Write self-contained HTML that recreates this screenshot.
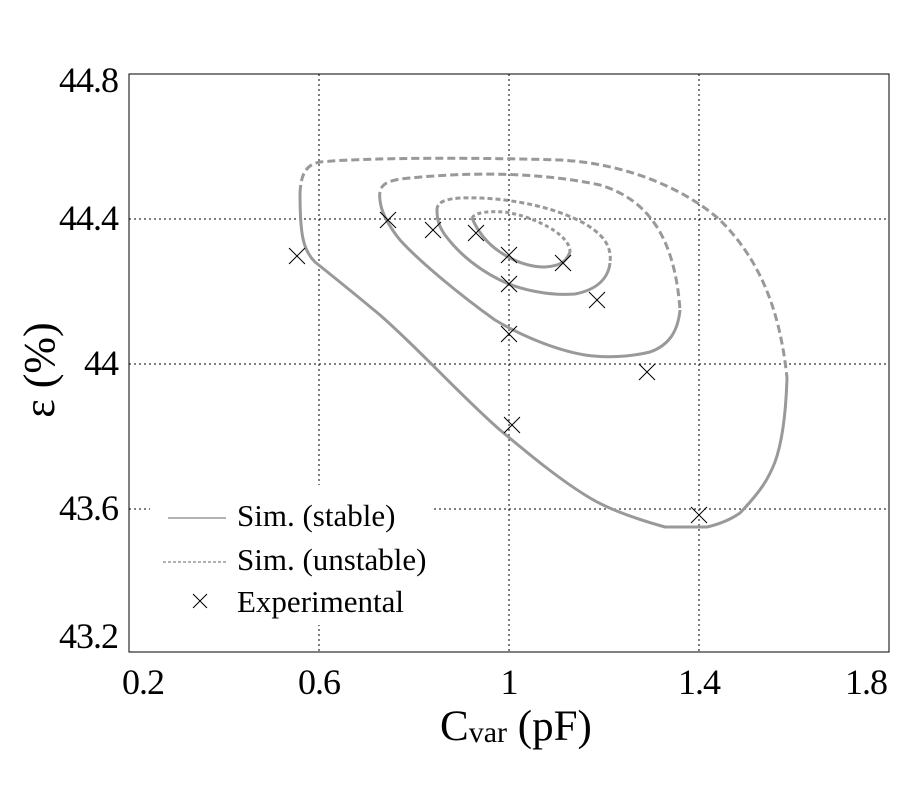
<!DOCTYPE html>
<html><head><style>
body{margin:0;background:#fff;}
svg{display:block;font-family:"Liberation Serif",serif;}
</style></head><body>
<svg width="900" height="800" viewBox="0 0 900 800">
<rect width="900" height="800" fill="#fff"/>
<g stroke="#000" stroke-width="1" stroke-dasharray="2,3" fill="none">
<line x1="319" y1="74" x2="319" y2="652"/>
<line x1="509" y1="74" x2="509" y2="652"/>
<line x1="699" y1="74" x2="699" y2="652"/>
<line x1="129" y1="219" x2="889" y2="219"/>
<line x1="129" y1="364" x2="889" y2="364"/>
<line x1="129" y1="509" x2="889" y2="509"/>
</g>
<rect x="150" y="485" width="283" height="140" fill="#fff"/>
<g stroke="#999" stroke-width="3" fill="none" stroke-linejoin="round">
<path d="M300,193 C301,175 305,165 320,162 C360,158 460,157 560,160 C620,163 680,185 720,220 C760,260 780,310 787,378" stroke-dasharray="8,4"/>
<path d="M787,378 C786,410 783,440 775,462 C768,480 760,492 740,513 C730,520 720,524 707,527 L665,527 C640,520 610,510 590,498 C560,480 530,455 500,430 C460,395 420,350 380,315 C350,290 325,270 315,262 C303,250 300,235 300,193"/>
<path d="M380,200 C378,185 385,180 410,178 C470,172 540,172 600,185 C650,200 675,240 680,310" stroke-dasharray="8,4"/>
<path d="M680,310 C678,330 670,345 650,352 C630,357 605,358 585,355 C555,350 520,335 495,320 C460,295 420,262 400,240 C388,225 381,212 380,200"/>
<path d="M437,210 C437,200 450,197 480,198 C530,200 580,215 600,235 C610,245 611,255 610,263" stroke-dasharray="5,3"/>
<path d="M610,263 C608,280 595,290 575,294 C550,296 520,290 500,280 C480,270 460,255 445,235 C438,225 437,218 437,210"/>
<path d="M472,218 C475,212 490,211 505,212 C530,216 555,228 565,240 C570,246 570,250 570,252" stroke-dasharray="4,3"/>
<path d="M570,252 C566,262 560,266 545,267 C530,267 515,262 500,252 C488,244 478,232 472,218"/>
</g>
<g stroke="#000" stroke-width="1">
<path d="M289,248l16,16M305,248l-16,16"/>
<path d="M380,212l16,16M396,212l-16,16"/>
<path d="M425,222l16,16M441,222l-16,16"/>
<path d="M468,225l16,16M484,225l-16,16"/>
<path d="M501,247l16,16M517,247l-16,16"/>
<path d="M501,276l16,16M517,276l-16,16"/>
<path d="M501,326l16,16M517,326l-16,16"/>
<path d="M504,417l16,16M520,417l-16,16"/>
<path d="M555,255l16,16M571,255l-16,16"/>
<path d="M589,292l16,16M605,292l-16,16"/>
<path d="M639,364l16,16M655,364l-16,16"/>
<path d="M691,507l16,16M707,507l-16,16"/>
</g>
<rect x="129" y="74" width="760" height="578" fill="none" stroke="#000" stroke-width="1"/>
<line x1="168" y1="518" x2="226" y2="518" stroke="#999" stroke-width="1.5"/>
<line x1="163" y1="562" x2="226" y2="562" stroke="#999" stroke-width="1.5" stroke-dasharray="3,2"/>
<path d="M193,594l14,14M207,594l-14,14" stroke="#000" stroke-width="1"/>
<g font-size="31" fill="#000">
<text x="237" y="526">Sim. (stable)</text>
<text x="237" y="570">Sim. (unstable)</text>
<text x="237" y="612">Experimental</text>
</g>
<g font-size="36" fill="#000" text-anchor="end" letter-spacing="-1">
<text x="118" y="92">44.8</text>
<text x="118" y="230">44.4</text>
<text x="118" y="375">44</text>
<text x="118" y="520">43.6</text>
<text x="118" y="648">43.2</text>
</g>
<g font-size="36" fill="#000" text-anchor="middle" letter-spacing="-1">
<text x="143" y="694">0.2</text>
<text x="319" y="694">0.6</text>
<text x="509" y="694">1</text>
<text x="699" y="694">1.4</text>
<text x="866" y="694">1.8</text>
</g>
<text x="440" y="740" font-size="43" fill="#000">C<tspan font-size="30" dy="2">var</tspan><tspan dy="-2"> (pF)</tspan></text>
<text transform="translate(54,370) rotate(-90)" font-size="44" fill="#000" text-anchor="middle">ε (%)</text>
</svg>
</body></html>
